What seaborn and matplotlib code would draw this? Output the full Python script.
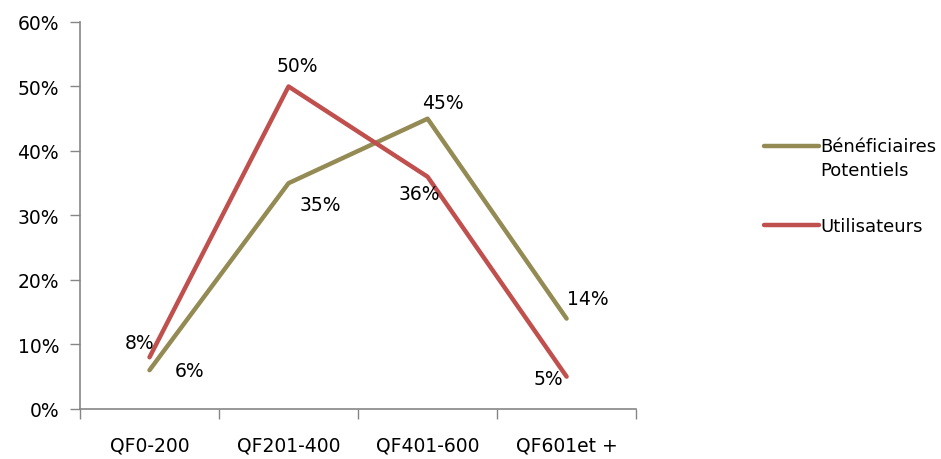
import matplotlib
matplotlib.use("Agg")
import matplotlib.pyplot as plt
import seaborn as sns
import pandas as pd
from matplotlib.ticker import FuncFormatter
from matplotlib.legend_handler import HandlerLine2D

categories = ["QF0-200", "QF201-400", "QF401-600", "QF601et +"]
beneficiaires = [0.06, 0.35, 0.45, 0.14]
utilisateurs = [0.08, 0.50, 0.36, 0.05]
series_names = ["Bénéficiaires\nPotentiels", "Utilisateurs"]
colors = ["#948A54", "#C0504D"]

sns.set_theme(style="white")
plt.rcParams["font.family"] = ["DejaVu Sans"]
FS = 13.5
LFS = 13

df = pd.DataFrame({
    "cat": categories * 2,
    "x": list(range(len(categories))) * 2,
    "val": beneficiaires + utilisateurs,
    "serie": [series_names[0]] * 4 + [series_names[1]] * 4,
})

fig = plt.figure(figsize=(9.41, 4.60), dpi=100)
ax = fig.add_axes([0.085, 0.109, 0.591, 0.841])

sns.lineplot(data=df, x="x", y="val", hue="serie", palette=colors,
             linewidth=3.2, ax=ax, legend=True, solid_capstyle="round")

ax.set_xlim(-0.5, 3.5)
ax.set_ylim(0, 0.6)
ax.set_yticks([0, 0.1, 0.2, 0.3, 0.4, 0.5, 0.6])
ax.yaxis.set_major_formatter(FuncFormatter(lambda v, p: f"{v*100:.0f}%"))
ax.set_xticks([0.5 + i for i in range(-1, 4)], minor=False)
ax.set_xticklabels([])
ax.set_xticks(range(len(categories)), minor=True)
ax.set_xticklabels(categories, minor=True)
ax.tick_params(axis="x", which="major", length=7, width=1, color="#868686", direction="out", bottom=True)
ax.tick_params(axis="x", which="minor", length=0, pad=19, labelsize=FS, labelcolor="black")
ax.tick_params(axis="y", length=7, width=1, color="#868686", direction="out", left=True, labelsize=FS, labelcolor="black", pad=8)
ax.set_xlabel("")
ax.set_ylabel("")
for s in ["top", "right"]:
    ax.spines[s].set_visible(False)
for s in ["left", "bottom"]:
    ax.spines[s].set_color("#868686")
    ax.spines[s].set_linewidth(1.2)

offsets_b = [(40, 0), (32, -21), (15, 16), (21, 20)]
offsets_u = [(-10, 15), (9, 21), (-8, -17), (-18, -2)]
for i, v in enumerate(beneficiaires):
    ax.annotate(f"{v*100:.0f}%", (i, v), xytext=offsets_b[i], textcoords="offset pixels",
                ha="center", va="center", fontsize=FS, color="black")
for i, v in enumerate(utilisateurs):
    ax.annotate(f"{v*100:.0f}%", (i, v), xytext=offsets_u[i], textcoords="offset pixels",
                ha="center", va="center", fontsize=FS, color="black")


class UpHandler(HandlerLine2D):
    def __init__(self, shift, **kw):
        super().__init__(**kw)
        self.shift = shift

    def create_artists(self, legend, orig_handle, xdescent, ydescent, width,
                       height, fontsize, trans):
        arts = super().create_artists(legend, orig_handle, xdescent, ydescent,
                                      width, height, fontsize, trans)
        for a in arts:
            try:
                y = a.get_ydata()
                a.set_ydata([v + self.shift for v in y])
            except AttributeError:
                pass
        return arts


handles, labels = ax.get_legend_handles_labels()
for h in handles:
    h.set_solid_capstyle("round")
leg = ax.legend(handles, labels, loc="center left", bbox_to_anchor=(0.795, 0.593),
                bbox_transform=fig.transFigure, frameon=False, fontsize=LFS,
                handlelength=3.0, handletextpad=0.12, labelspacing=2.1,
                handler_map={handles[0]: UpHandler(shift=9.0)})
for t in leg.get_texts():
    t.set_color("black")
    t.set_linespacing(1.4)

fig.savefig("out.png", dpi=100)
